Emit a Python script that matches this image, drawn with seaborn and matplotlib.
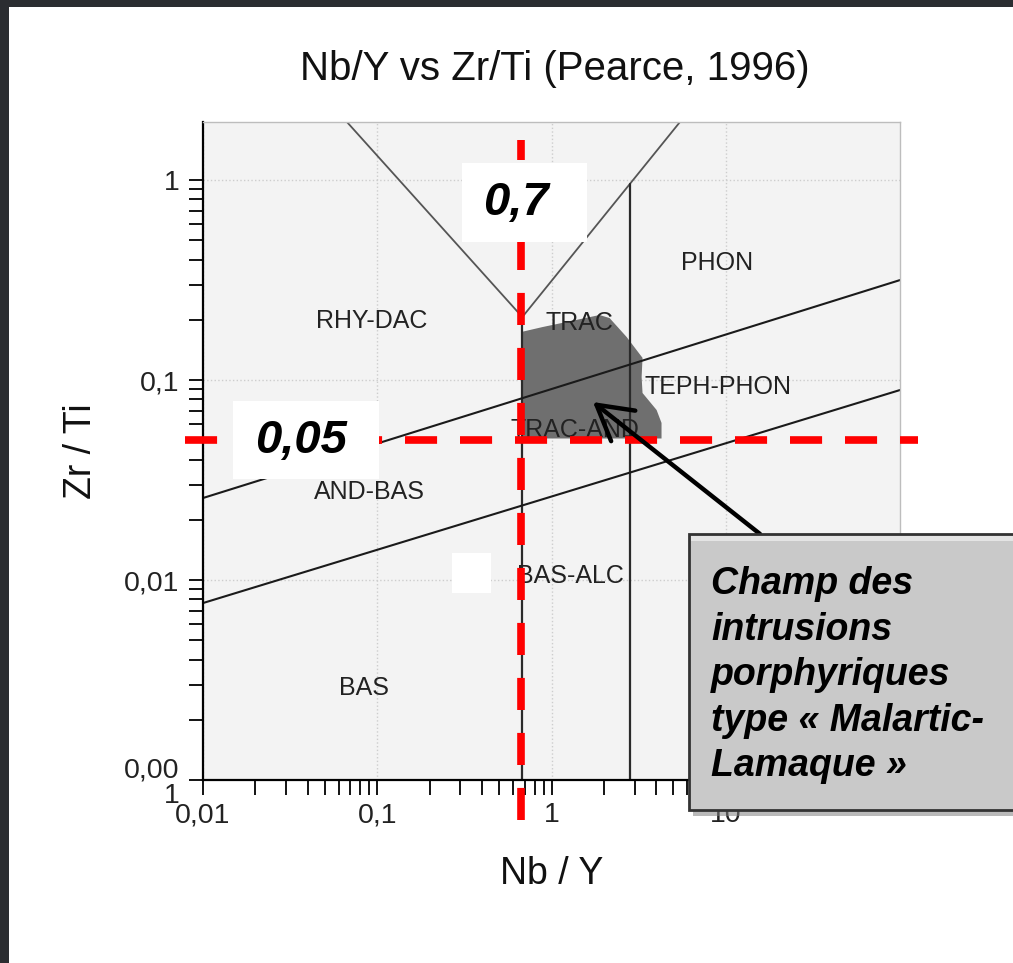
import matplotlib
matplotlib.use("Agg")
import matplotlib.pyplot as plt
import seaborn as sns
from matplotlib.patches import Rectangle
from matplotlib.ticker import FixedLocator, FixedFormatter, LogLocator, NullFormatter

# ---------------- data ----------------
TITLE = "Nb/Y vs Zr/Ti (Pearce, 1996)"
X_LABEL = "Nb / Y"
Y_LABEL = "Zr / Ti"
X_TICKS = [0.01, 0.1, 1, 10]
X_TICK_LABELS = ["0,01", "0,1", "1", "10"]
Y_TICKS = [0.001, 0.01, 0.1, 1]
Y_TICK_LABELS = ["0,00\n1", "0,01", "0,1", "1"]
X_RANGE = [0.01, 100]
Y_RANGE = [0.001, 1.95]

# field boundaries (Nb/Y, Zr/Ti)
V_LEFT_X = [0.067, 0.68]
V_LEFT_Y = [1.95, 0.2065]
V_RIGHT_X = [0.68, 5.46]
V_RIGHT_Y = [0.2065, 1.95]
VERT1_X = [0.68, 0.68]
VERT1_Y = [0.2065, 0.001]
VERT2_X = [2.82, 2.82]
VERT2_Y = [0.956, 0.001]
DIAG_UP_X = [0.01, 100]
DIAG_UP_Y = [0.0257, 0.316]
DIAG_LO_X = [0.01, 100]
DIAG_LO_Y = [0.00767, 0.0891]

FIELD_NAMES = ["RHY-DAC", "TRAC", "PHON", "TEPH-PHON", "TRAC-AND", "AND-BAS", "BAS-ALC", "BAS"]
FIELD_X = [0.093, 1.455, 8.9, 9.0, 1.36, 0.0907, 1.29, 0.084]
FIELD_Y = [0.197, 0.193, 0.385, 0.092, 0.056, 0.0275, 0.0105, 0.00288]

# porphyry intrusion field (Malartic-Lamaque)
FIELD_POLY_X = [0.68, 0.68, 0.889, 1.888, 2.155, 2.70, 3.33, 3.29, 3.33, 4.01, 4.28, 4.28]
FIELD_POLY_Y = [0.051, 0.1743, 0.184, 0.2113, 0.204, 0.164, 0.129, 0.1035, 0.0861, 0.0708, 0.061, 0.051]

THRESH_NBY = 0.67
THRESH_NBY_LABEL = "0,7"
THRESH_ZRTI = 0.05
THRESH_ZRTI_LABEL = "0,05"

ARROW_TARGET = (1.73, 0.0776)
ANNOT_LINES = ["Champ des", "intrusions", "porphyriques", "type \u00ab Malartic-", "Lamaque \u00bb"]

# ---------------- style ----------------
sns.set_theme(style="ticks")
plt.rcParams['font.family'] = ['Liberation Sans', 'DejaVu Sans']

W, H = 1013, 963
def fx(px):
    return px / W
def fy(py):
    return 1 - py / H

fig = plt.figure(figsize=(W / 100, H / 100), dpi=100)
fig.patch.set_facecolor('white')
ax = fig.add_axes([fx(203), fy(780), (900 - 203) / W, (780 - 122) / H])
ax.set_xscale('log')
ax.set_yscale('log')
ax.set_xlim(X_RANGE)
ax.set_ylim(Y_RANGE)
ax.set_facecolor('#f3f3f3')

# grid
ax.set_axisbelow(True)
ax.grid(True, which='major', color='#cdcdcd', linestyle=':', linewidth=1.0)
ax.grid(False, which='minor')

# porphyry field
ax.fill(FIELD_POLY_X, FIELD_POLY_Y, color='#6f6f6f', edgecolor='none', zorder=1)

# boundaries
for xs, ys, c, lw in [
    (V_LEFT_X, V_LEFT_Y, '#555555', 1.3),
    (V_RIGHT_X, V_RIGHT_Y, '#555555', 1.3),
    (VERT1_X, VERT1_Y, '#2a2a2a', 1.6),
    (VERT2_X, VERT2_Y, '#2a2a2a', 1.6),
    (DIAG_UP_X, DIAG_UP_Y, '#1a1a1a', 1.5),
    (DIAG_LO_X, DIAG_LO_Y, '#1a1a1a', 1.5),
]:
    sns.lineplot(x=xs, y=ys, ax=ax, color=c, linewidth=lw, sort=False,
                 estimator=None, zorder=2)

# field labels
for name, x, y in zip(FIELD_NAMES, FIELD_X, FIELD_Y):
    ax.text(x, y, name, ha='center', va='center', fontsize=18, color='#222222', zorder=3)

# ticks
ax.xaxis.set_major_locator(FixedLocator(X_TICKS))
ax.xaxis.set_major_formatter(FixedFormatter(X_TICK_LABELS))
ax.yaxis.set_major_locator(FixedLocator(Y_TICKS))
ax.yaxis.set_major_formatter(FixedFormatter(Y_TICK_LABELS))
for axis in (ax.xaxis, ax.yaxis):
    axis.set_minor_locator(LogLocator(base=10, subs=range(2, 10), numticks=30))
    axis.set_minor_formatter(NullFormatter())
ax.tick_params(which='both', direction='out', length=10, width=1.3, color='black',
               labelsize=20.5, labelcolor='#222222')
ax.tick_params(axis='y', which='both', pad=7)
ax.tick_params(axis='x', which='both', pad=5, length=11)
for lbl in ax.get_yticklabels():
    lbl.set_multialignment('right')
    lbl.set_linespacing(1.0)

for s in ('top', 'right'):
    ax.spines[s].set_color('#bdbdbd')
    ax.spines[s].set_linewidth(1.0)
for s in ('left', 'bottom'):
    ax.spines[s].set_color('black')
    ax.spines[s].set_linewidth(1.6)

ax.set_title(TITLE, fontsize=29, pad=30, color='#111111', x=0.505)
ax.set_xlabel(X_LABEL, fontsize=27, color='#111111')
ax.set_ylabel(Y_LABEL, fontsize=27, color='#111111')
ax.xaxis.set_label_coords(0.5, (780 - 856) / 658)
ax.yaxis.set_label_coords((99 - 203) / 697, 0.5)

# red threshold lines
ax.axhline(THRESH_ZRTI, xmin=(185 - 203) / 697, xmax=(918 - 203) / 697, color='#ff0000',
           linewidth=5.5, dashes=(4.2, 3.0), clip_on=False, zorder=6)
ax.axvline(THRESH_NBY, ymin=(780 - 820) / 658, ymax=(780 - 140) / 658, color='#ff0000',
           linewidth=5.5, dashes=(4.2, 3.0), clip_on=False, zorder=6)

# arrow
ax.annotate("", xy=ARROW_TARGET, xycoords='data',
            xytext=(760, H - 534), textcoords='figure pixels',
            arrowprops=dict(arrowstyle='->,head_length=0.7,head_width=0.4',
                            color='black', lw=3.2, mutation_scale=35,
                            shrinkA=0, shrinkB=0),
            zorder=8)

# white label boxes
def fig_rect(x0, y0, x1, y1, **kw):
    r = Rectangle((fx(x0), fy(y1)), (x1 - x0) / W, (y1 - y0) / H,
                  transform=fig.transFigure, **kw)
    fig.add_artist(r)
    return r

fig_rect(462, 163, 587, 242, facecolor='white', edgecolor='none', zorder=10)
fig.text(fx(516), fy(203), THRESH_NBY_LABEL, ha='center', va='center', fontsize=34,
         fontweight='bold', fontstyle='italic', color='black', zorder=11)
fig_rect(233, 401, 379, 479, facecolor='white', edgecolor='none', zorder=10)
fig.text(fx(301), fy(441), THRESH_ZRTI_LABEL, ha='center', va='center', fontsize=34,
         fontweight='bold', fontstyle='italic', color='black', zorder=11)
fig_rect(452, 553, 491, 593, facecolor='white', edgecolor='none', zorder=10)

# annotation callout box
fig_rect(693, 539, 1030, 816, facecolor='#808080', edgecolor='none', alpha=0.55, zorder=19)
fig_rect(689, 534, 1030, 810, facecolor='#c9c9c9', edgecolor='#333333', linewidth=2, zorder=20)
fig_rect(691, 536, 1030, 541, facecolor='#e4e4e4', edgecolor='none', zorder=20.5)
for i, line in enumerate(ANNOT_LINES):
    fig.text(fx(711), fy(594 + 45.5 * i), line, ha='left', va='baseline', fontsize=27,
             fontweight='bold', fontstyle='italic', color='black', zorder=21)

# dark frame edges
fig_rect(0, 0, W, 7, facecolor='#2b2d31', edgecolor='none', zorder=30)
fig_rect(0, 0, 9, H, facecolor='#2b2d31', edgecolor='none', zorder=30)

fig.savefig('out.png', dpi=100)
